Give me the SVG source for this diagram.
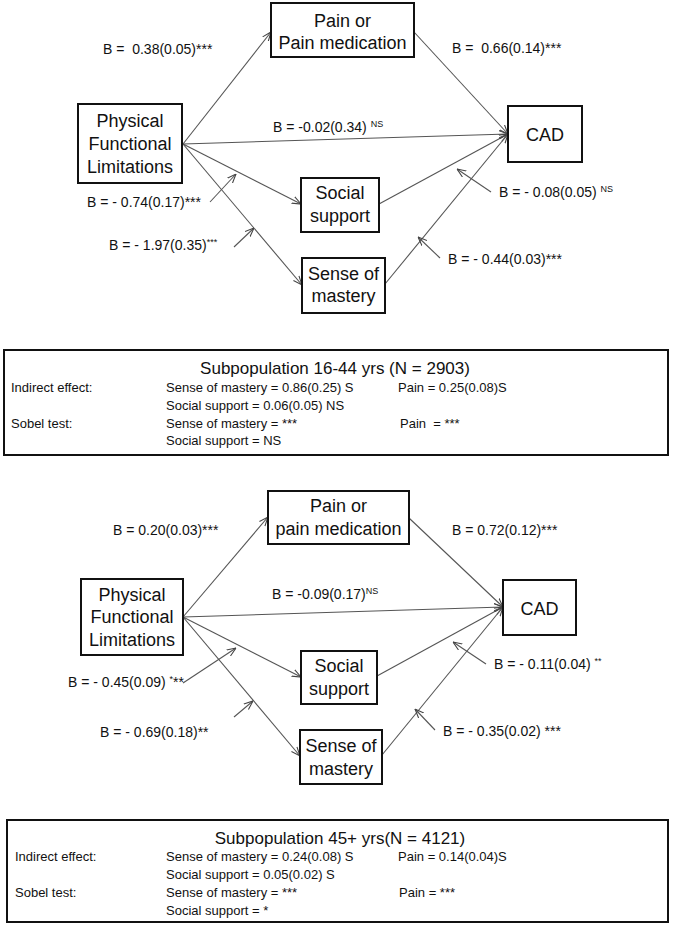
<svg xmlns="http://www.w3.org/2000/svg" width="683" height="925" viewBox="0 0 683 925">
<style>
.box{fill:#fff;stroke:#111;stroke-width:2}
.nt{font-family:"Liberation Sans",Arial,sans-serif;font-size:18px;fill:#111;text-anchor:middle}
.lb{font-family:"Liberation Sans",Arial,sans-serif;font-size:14px;fill:#111;white-space:pre}
.sp{font-size:9px}
.bt{font-family:"Liberation Sans",Arial,sans-serif;font-size:13px;fill:#111;white-space:pre}
.tt{font-family:"Liberation Sans",Arial,sans-serif;font-size:17px;fill:#111;text-anchor:middle}
.cn{fill:none;stroke:#555;stroke-width:1.1;marker-end:url(#ah)}
</style>
<defs>
<marker id="ah" viewBox="0 0 10 10" refX="10" refY="5" markerWidth="9" markerHeight="9" markerUnits="userSpaceOnUse" orient="auto">
<path d="M0,1 L10,5 L0,9" fill="none" stroke="#444" stroke-width="1.2"/>
</marker>
</defs>
<rect width="683" height="925" fill="#fff"/>

<g id="connectors">
<path class="cn" d="M183,144 L271,32"/>
<path class="cn" d="M414,32 L508,134"/>
<path class="cn" d="M183,144 L508,134"/>
<path class="cn" d="M183,144 L301,204"/>
<path class="cn" d="M183,144 L302,285"/>
<path class="cn" d="M379,204 L508,134"/>
<path class="cn" d="M385,284 L508,134"/>
<path class="cn" d="M210,202 L236,174"/>
<path class="cn" d="M234,247 L254,228"/>
<path class="cn" d="M491,192 L457,169"/>
<path class="cn" d="M440,258 L418,237"/>

<path class="cn" d="M183,617 L268,517"/>
<path class="cn" d="M409,518 L503,607"/>
<path class="cn" d="M183,617 L503,607"/>
<path class="cn" d="M183,617 L301,677"/>
<path class="cn" d="M183,617 L300,756"/>
<path class="cn" d="M377,676 L503,607"/>
<path class="cn" d="M382,755 L503,607"/>
<path class="cn" d="M183,683 L236,648"/>
<path class="cn" d="M234,717 L253,701"/>
<path class="cn" d="M486,664 L453,642"/>
<path class="cn" d="M435,730 L415,709"/>
</g>

<g id="pain1"><rect class="box" x="271" y="3" width="143" height="54"/>
<text class="nt" x="342.5" y="27">Pain or</text><text class="nt" x="342.5" y="49">Pain medication</text></g>
<g id="phys1"><rect class="box" x="78" y="104" width="104" height="79"/>
<text class="nt" x="130" y="127">Physical</text><text class="nt" x="130" y="150">Functional</text><text class="nt" x="130" y="173">Limitations</text></g>
<g id="cad1"><rect class="box" x="508" y="106" width="74" height="56"/>
<text class="nt" x="545" y="141">CAD</text></g>
<g id="social1"><rect class="box" x="301" y="178" width="78" height="54"/>
<text class="nt" x="340" y="199">Social</text><text class="nt" x="340" y="222">support</text></g>
<g id="mastery1"><rect class="box" x="302" y="258" width="83" height="55"/>
<text class="nt" x="343.5" y="280">Sense of</text><text class="nt" x="343.5" y="302">mastery</text></g>

<g id="labels1">
<text class="lb" x="103" y="54">B =  0.38(0.05)***</text>
<text class="lb" x="452" y="53">B =  0.66(0.14)***</text>
<text class="lb" x="273" y="132">B = -0.02(0.34) <tspan class="sp" dy="-5">NS</tspan></text>
<text class="lb" x="87" y="207">B = - 0.74(0.17)***</text>
<text class="lb" x="109" y="250">B = - 1.97(0.35)<tspan class="sp" dy="-5">***</tspan></text>
<text class="lb" x="499" y="197">B = - 0.08(0.05) <tspan class="sp" dy="-5">NS</tspan></text>
<text class="lb" x="448" y="264">B = - 0.44(0.03)***</text>
</g>

<g id="summary1"><rect class="box" x="4" y="350" width="664" height="105"/>
<text class="tt" x="335" y="374">Subpopulation 16-44 yrs (N = 2903)</text>
<text class="bt" x="11" y="392">Indirect effect:</text>
<text class="bt" x="166" y="392">Sense of mastery = 0.86(0.25) S</text>
<text class="bt" x="398" y="392">Pain = 0.25(0.08)S</text>
<text class="bt" x="166" y="410">Social support = 0.06(0.05) NS</text>
<text class="bt" x="11" y="428">Sobel test:</text>
<text class="bt" x="166" y="428">Sense of mastery = ***</text>
<text class="bt" x="400" y="428">Pain  = ***</text>
<text class="bt" x="166" y="445">Social support = NS</text>
</g>

<g id="pain2"><rect class="box" x="268" y="491" width="141" height="53"/>
<text class="nt" x="338.5" y="512">Pain or</text><text class="nt" x="338.5" y="535">pain medication</text></g>
<g id="phys2"><rect class="box" x="81" y="579" width="102" height="76"/>
<text class="nt" x="132" y="601">Physical</text><text class="nt" x="132" y="623">Functional</text><text class="nt" x="132" y="646">Limitations</text></g>
<g id="cad2"><rect class="box" x="503" y="580" width="73" height="55"/>
<text class="nt" x="539.5" y="615">CAD</text></g>
<g id="social2"><rect class="box" x="301" y="651" width="76" height="53"/>
<text class="nt" x="339" y="672">Social</text><text class="nt" x="339" y="695">support</text></g>
<g id="mastery2"><rect class="box" x="300" y="730" width="82" height="54"/>
<text class="nt" x="341" y="752">Sense of</text><text class="nt" x="341" y="775">mastery</text></g>

<g id="labels2">
<text class="lb" x="113" y="535">B = 0.20(0.03)***</text>
<text class="lb" x="452" y="535">B = 0.72(0.12)***</text>
<text class="lb" x="272" y="599">B = -0.09(0.17)<tspan class="sp" dy="-5">NS</tspan></text>
<text class="lb" x="68" y="687">B = - 0.45(0.09) <tspan class="sp" dy="-5">*</tspan><tspan dy="5">**</tspan></text>
<text class="lb" x="100" y="737">B = - 0.69(0.18)**</text>
<text class="lb" x="494" y="669">B = - 0.11(0.04) <tspan class="sp" dy="-5">**</tspan></text>
<text class="lb" x="443" y="736">B = - 0.35(0.02) ***</text>
</g>

<g id="summary2"><rect class="box" x="7" y="820" width="661" height="102"/>
<text class="tt" x="340" y="844">Subpopulation 45+ yrs(N = 4121)</text>
<text class="bt" x="15" y="861">Indirect effect:</text>
<text class="bt" x="166" y="861">Sense of mastery = 0.24(0.08) S</text>
<text class="bt" x="398" y="861">Pain = 0.14(0.04)S</text>
<text class="bt" x="166" y="879">Social support = 0.05(0.02) S</text>
<text class="bt" x="15" y="897">Sobel test:</text>
<text class="bt" x="166" y="897">Sense of mastery = ***</text>
<text class="bt" x="399" y="897">Pain = ***</text>
<text class="bt" x="166" y="915">Social support = *</text>
</g>
</svg>
